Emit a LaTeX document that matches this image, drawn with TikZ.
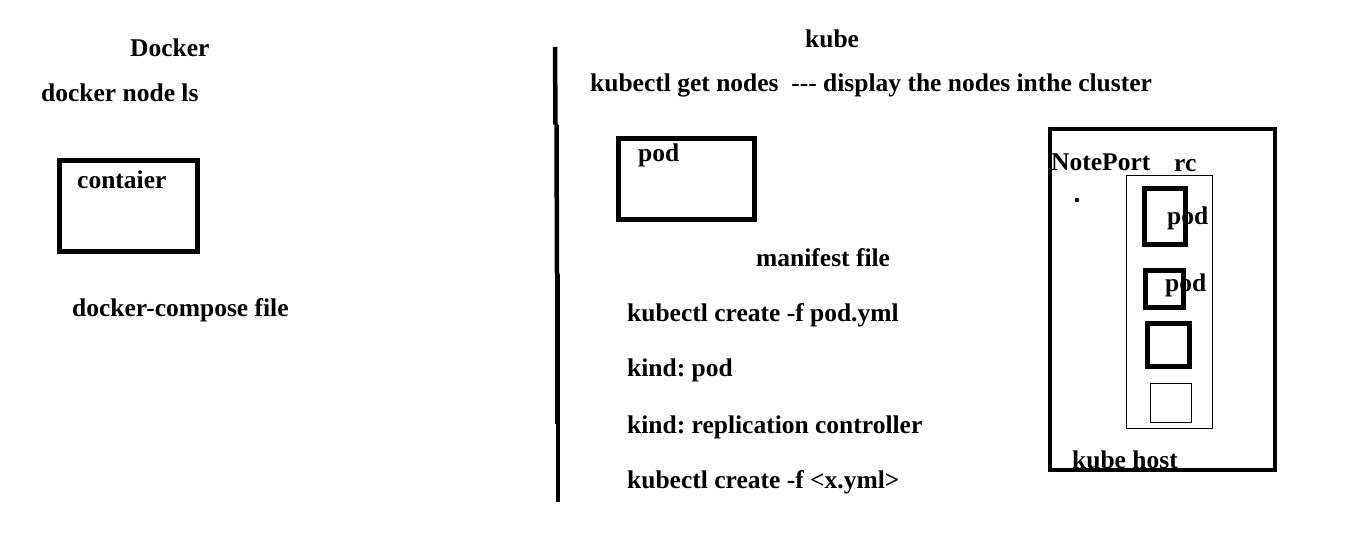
\documentclass[tikz,border=0pt]{standalone}
\usepackage{fontspec}
\setmainfont{Liberation Serif}
\frenchspacing
\begin{document}
\begin{tikzpicture}[x=1pt,y=-1pt,
  lbl/.style={anchor=base west,inner sep=0pt,font=\fontsize{25.5}{30}\selectfont\bfseries},
  thick box/.style={draw=black,line width=5pt},
  thin box/.style={draw=black,line width=1pt},
  host box/.style={draw=black,line width=4pt},
  divider/.style={draw=black,line width=4.5pt}]
\useasboundingbox[fill=white] (0,0) rectangle (1355,545);
% divider line segments
\coordinate (d0) at (555,47);
\coordinate (d1) at (555.5,125);
\coordinate (d1b) at (556.5,125);
\coordinate (d2) at (557,274);
\coordinate (d2b) at (557.5,274);
\coordinate (d3) at (557.5,424);
\coordinate (d3b) at (558,424);
\coordinate (d4) at (558,502);
\draw[divider] (d0) -- (d1);
\draw[divider] (d1b) -- (d2);
\draw[divider] (d2b) -- (d3);
\draw[divider] (d3b) -- (d4);
% Docker side
\node[lbl] (docker) at (130,57) {Docker};
\node[lbl] (dnls) at (41,102) {docker node ls};
\draw[thick box] (59.5,160.5) rectangle (197.5,252);
\node[lbl] (cont) at (77,189) {contaier};
\node[lbl] (dcf) at (72,317) {docker-compose file};
% Kube side
\node[lbl] (kube) at (805,48) {kube};
\node[lbl] (kgn) at (590,92) {kubectl get nodes\ \ {-}{-}{-} display the nodes inthe cluster};
\draw[thick box] (618.5,138.5) rectangle (754.5,219.5);
\node[lbl] (pod) at (638,162) {pod};
\node[lbl] (mf) at (756,267) {manifest file};
\node[lbl] (kc1) at (627,322) {kubectl create -f pod.yml};
\node[lbl] (kp) at (627,377) {kind: pod};
\node[lbl] (krc) at (627,433) {kind: replication controller};
\node[lbl] (kc2) at (627,488) {kubectl create -f <x.yml>};
% kube host
\draw[host box] (1049.5,129.5) rectangle (1275,470);
\node[lbl] (np) at (1051,171) {NotePort};
\fill[black] (1075,198.5) rectangle (1079,202.5);
\node[lbl] (rc) at (1174,172) {rc};
\draw[thin box] (1126,176) rectangle (1212,428);
\draw[thick box] (1144.5,188.5) rectangle (1185,244.5);
\node[lbl] (pod1) at (1167,225) {pod};
\draw[thick box] (1145.5,270.5) rectangle (1183.5,307.5);
\node[lbl] (pod2) at (1165,292) {pod};
\draw[thick box] (1147.5,324) rectangle (1189.5,366.5);
\draw[thin box] (1150,383) rectangle (1191,422);
\node[lbl] (kh) at (1072,468) {kube host};
\end{tikzpicture}
\end{document}
